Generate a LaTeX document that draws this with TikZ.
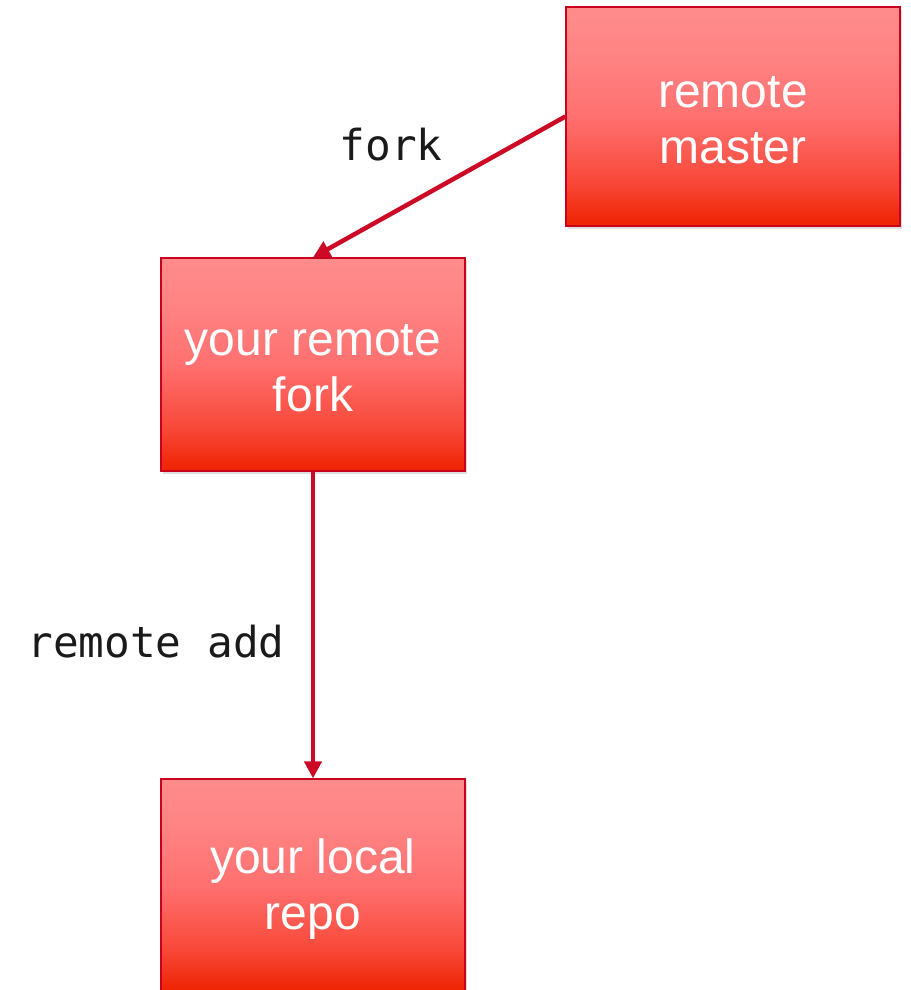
\documentclass[tikz,border=0pt]{standalone}
\usepackage{fontspec}
\setmainfont{Liberation Sans}
\newfontfamily\codefont{DejaVu Sans Mono}
\usetikzlibrary{arrows.meta,shadows}
\definecolor{boxtop}{HTML}{FF8C8C}
\definecolor{boxupper}{HTML}{FF8282}
\definecolor{boxmid}{HTML}{FF7070}
\definecolor{boxlow}{HTML}{F84838}
\definecolor{boxbottom}{HTML}{EE2200}
\definecolor{boxedge}{HTML}{C8001E}
\definecolor{linkred}{HTML}{CC0A25}
\definecolor{codeink}{HTML}{1A1A1A}
% vertical fill of the boxes: the path maps onto 25bp..75bp
\pgfdeclareverticalshading{repofill}{100bp}{%
  color(0bp)=(boxbottom); color(25bp)=(boxbottom); color(35bp)=(boxlow);
  color(50bp)=(boxmid); color(63bp)=(boxupper); color(75bp)=(boxtop);
  color(100bp)=(boxtop)}
\tikzset{
  repobox/.style={rectangle, draw=boxedge, line width=1.2pt,
    shading=repofill,
    drop shadow={opacity=0.25, shadow xshift=2pt, shadow yshift=-3pt},
    inner sep=0pt},
  boxtext/.style={text=white, align=center, inner sep=0pt, yshift=-4pt,
    font=\fontsize{48}{56}\selectfont},
  link/.style={draw=linkred, line width=4.5pt,
    -{Triangle[length=17pt,width=17pt]}},
  cmd/.style={text=codeink, inner sep=0pt, anchor=base,
    font=\codefont\fontsize{42.7}{50}\selectfont}
}
\begin{document}
\begin{tikzpicture}[x=1pt,y=-1pt]
  \useasboundingbox (0,0) rectangle (910,990);
  \node[repobox, minimum width=334pt, minimum height=219pt,
    label={[boxtext, name=mastertext]center:remote\\master}] (master) at (733,116.5) {};
  \node[repobox, minimum width=304pt, minimum height=213pt,
    label={[boxtext, name=forktext]center:your remote\\fork}] (fork) at (313,364.5) {};
  \node[repobox, minimum width=304pt, minimum height=213pt,
    label={[boxtext, name=localtext]center:your local\\repo}] (local) at (313,885.5) {};
  \draw[link] (master.west) -- (fork.north);
  \draw[link] (fork.south) -- (local.north);
  \node[cmd] (forklabel) at (391,160) {fork};
  \node[cmd] (addlabel) at (156,657) {remote add};
\end{tikzpicture}
\end{document}
